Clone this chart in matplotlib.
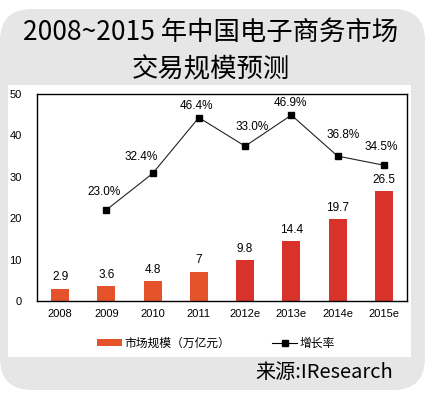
import matplotlib
matplotlib.use("Agg")
import matplotlib.pyplot as plt
from matplotlib.patches import FancyBboxPatch, Rectangle, Patch
from matplotlib.lines import Line2D

plt.rcParams['font.family'] = ['Noto Sans CJK SC', 'DejaVu Sans']
num_font = ['Liberation Sans', 'DejaVu Sans']

years = ['2008', '2009', '2010', '2011', '2012e', '2013e', '2014e', '2015e']
market = [2.9, 3.6, 4.8, 7, 9.8, 14.4, 19.7, 26.5]
market_labels = ['2.9', '3.6', '4.8', '7', '9.8', '14.4', '19.7', '26.5']
growth_years = ['2009', '2010', '2011', '2012e', '2013e', '2014e', '2015e']
growth_pos = [22.0, 30.8, 44.3, 37.4, 44.9, 35.0, 32.8]  # line height as drawn on the 0-50 axis
growth_labels = ['23.0%', '32.4%', '46.4%', '33.0%', '46.9%', '36.8%', '34.5%']
yticks = [0, 10, 20, 30, 40, 50]

orange = '#e5532a'
red = '#d8322a'
gray = '#e6e6e6'

fig = plt.figure(figsize=(4.29, 3.95), dpi=100)
fig.patch.set_facecolor('white')

# gray rounded frame and white panel (inches)
frame = FancyBboxPatch((0.0, 0.05), 4.25, 3.81, boxstyle='round,pad=0,rounding_size=0.32',
                       transform=fig.dpi_scale_trans, facecolor=gray, edgecolor='none', zorder=0)
fig.add_artist(frame)
panel = Rectangle((0.08, 0.38), 4.03, 2.72, transform=fig.dpi_scale_trans,
                  facecolor='white', edgecolor='none', zorder=0.5)
fig.add_artist(panel)

fig.text(0.49, 0.919, '2008~2015 年中国电子商务市场', ha='center', va='center', fontsize=19)
fig.text(0.492, 0.823, '交易规模预测', ha='center', va='center', fontsize=19)

ax = fig.add_axes([0.0862, 0.238, 0.8625, 0.524])
ax.set_zorder(2)
ax.set_facecolor('none')
x = list(range(len(years)))
colors = [orange if not y.endswith('e') else red for y in years]
bars = ax.bar(x, market, width=0.39, color=colors, zorder=2)
for xi, v, lab in zip(x, market, market_labels):
    ax.annotate(lab, (xi, v), xytext=(0, 4), textcoords='offset points',
                ha='center', va='bottom', fontsize=8.5, family=num_font)

gx = [years.index(g) for g in growth_years]
ax.plot(gx, growth_pos, color='#222222', lw=0.8, marker='s', markersize=5,
        markerfacecolor='black', markeredgecolor='black', zorder=3)
offsets = [(-2, 13), (-8, 12), (-2, 8), (5, 14), (-1, 9), (4, 15), (-2, 13)]
for xi, v, lab, (dx, dy) in zip(gx, growth_pos, growth_labels, offsets):
    ax.annotate(lab, (xi, v), xytext=(dx, dy), textcoords='offset points',
                ha='center', va='center', fontsize=8.5, family=num_font)

ax.set_xlim(-0.5, len(years) - 0.5)
ax.set_ylim(0, 50)
ax.set_yticks(yticks)
ax.set_xticks(x)
ax.set_xticklabels(years)
ax.tick_params(axis='both', length=0, labelsize=8)
ax.tick_params(axis='x', pad=6)
ax.tick_params(axis='y', pad=11)
for lab in ax.get_xticklabels() + ax.get_yticklabels():
    lab.set_family(num_font)
for s in ax.spines.values():
    s.set_color('black')
    s.set_linewidth(1.0)

handles = [Patch(facecolor=orange, edgecolor='none'),
           Line2D([0], [0], color='black', lw=0.8, marker='s', markersize=4)]
fig.legend(handles, ['市场规模（万亿元）', '增长率'], loc='center',
           bbox_to_anchor=(0.503, 1 - 343 / 395), ncol=2, frameon=False, fontsize=8.5,
           handlelength=2.1, handleheight=0.5, handletextpad=0.2, columnspacing=3.6)

fig.text(393 / 429, 1 - 373 / 395, '来源:IResearch', ha='right', va='center', fontsize=14.5)

fig.savefig('out.png', dpi=100)
